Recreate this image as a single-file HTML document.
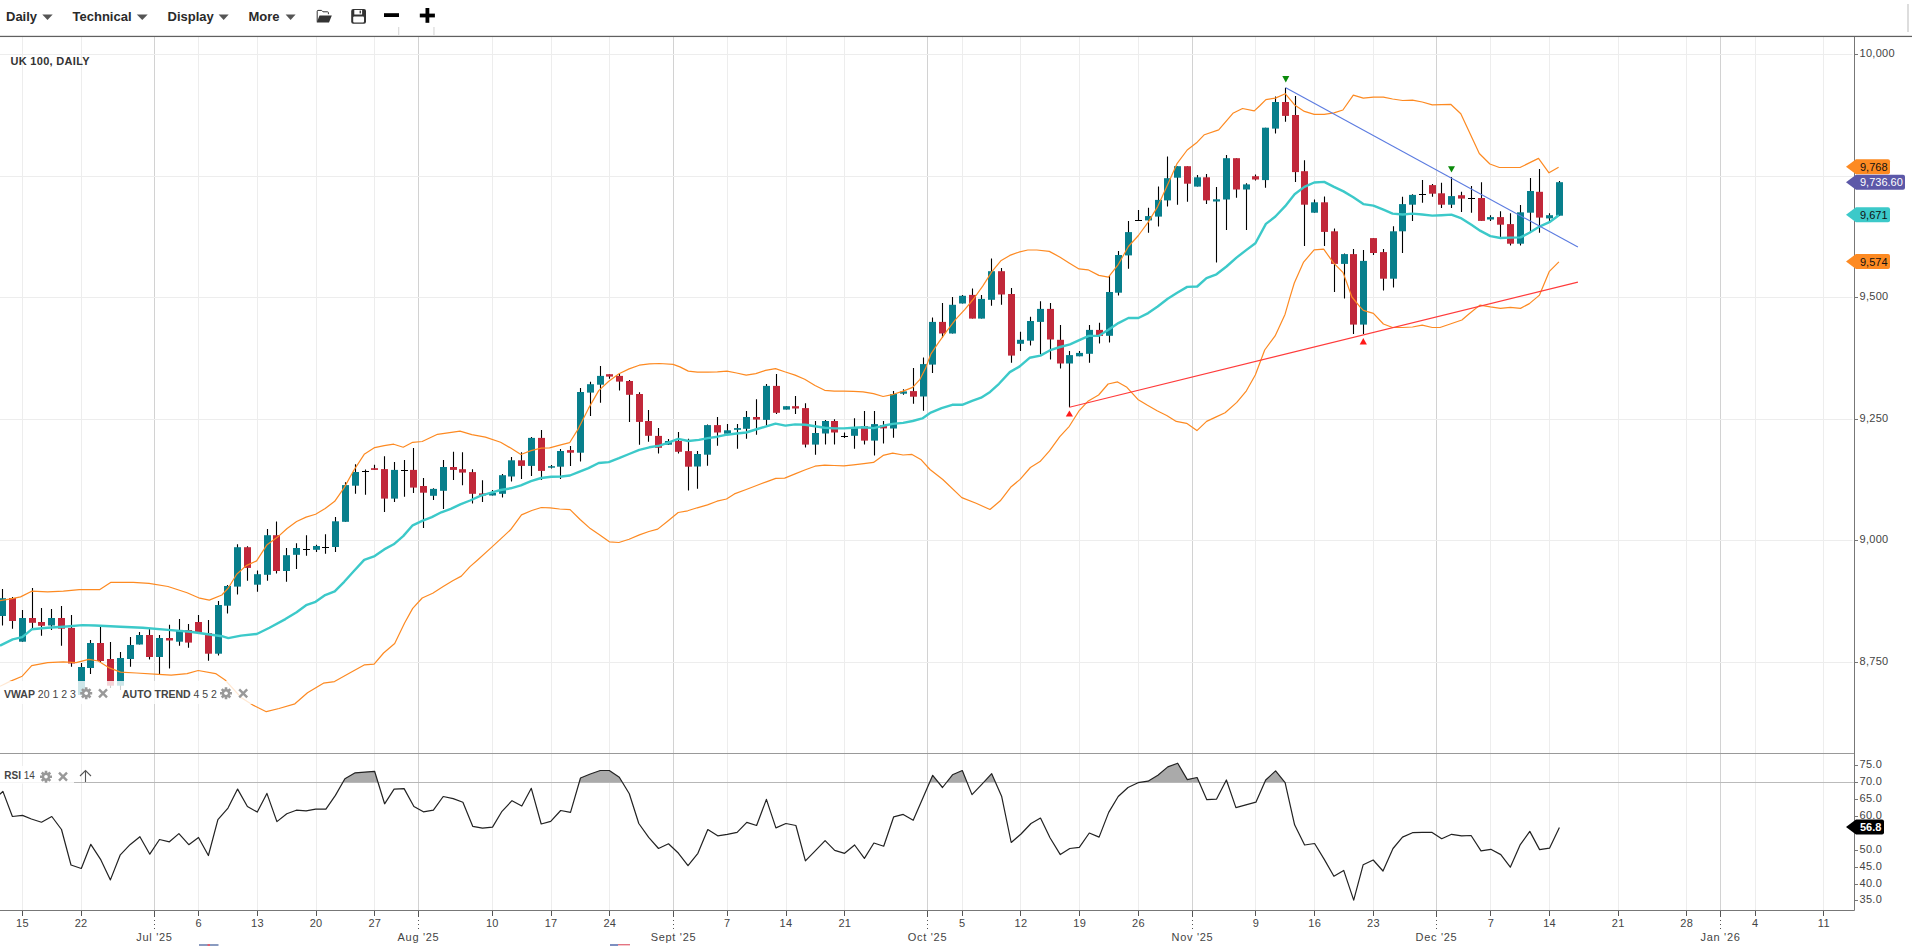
<!DOCTYPE html>
<html><head><meta charset="utf-8"><title>UK 100, Daily</title>
<style>
html,body{margin:0;padding:0;background:#fff;}
body{width:1912px;height:946px;overflow:hidden;position:relative;font-family:"Liberation Sans",sans-serif;}
svg{position:absolute;left:0;top:0;}
.ax{font-family:"Liberation Sans",sans-serif;font-size:11px;letter-spacing:0.3px;fill:#444;}
.mo{font-family:"Liberation Sans",sans-serif;font-size:11px;letter-spacing:0.7px;fill:#444;}
.tg{font-family:"Liberation Sans",sans-serif;font-size:11px;}
.lg{font-family:"Liberation Sans",sans-serif;font-size:10.5px;fill:#444;}
.tt{font-family:"Liberation Sans",sans-serif;font-size:11px;font-weight:bold;fill:#333;letter-spacing:0.3px;}
.tb{font-family:"Liberation Sans",sans-serif;font-size:13px;font-weight:bold;fill:#2a2a2a;}
</style></head>
<body>
<svg width="1912" height="946" viewBox="0 0 1912 946">
<path d="M22.5 37V910M81.5 37V910M198.5 37V910M257.5 37V910M316.5 37V910M374.5 37V910M492.5 37V910M551.5 37V910M609.5 37V910M727.5 37V910M786.5 37V910M844.5 37V910M962.5 37V910M1020.5 37V910M1079.5 37V910M1138.5 37V910M1255.5 37V910M1314.5 37V910M1373.5 37V910M1490.5 37V910M1549.5 37V910M1618.5 37V910M1686.5 37V910M1755.5 37V910M1823.5 37V910" stroke="#ededed" stroke-width="1" fill="none"/>
<path d="M154.5 37V910M418.5 37V910M673.5 37V910M927.5 37V910M1192.5 37V910M1436.5 37V910M1720.5 37V910" stroke="#d2d2d2" stroke-width="1" fill="none"/>
<path d="M0 54.5H1852.5M0 176.5H1852.5M0 297.5H1852.5M0 419.5H1852.5M0 540.5H1852.5M0 662.5H1852.5" stroke="#ededed" stroke-width="1" fill="none"/>
<path d="M0 753.5H1854.5" stroke="#999" stroke-width="1"/>
<path d="M0 782.5H1854.5" stroke="#bbb" stroke-width="1"/>
<clipPath id="c70"><rect x="0" y="740" width="1860" height="42.5"/></clipPath>
<polygon points="0,782.5 0,794.2 2.9,791.4 12.4,816.5 22.5,815.4 31.4,819 41.5,822.2 51.8,816.5 61.5,829.5 71,865 81.3,868.5 90.8,844.3 100.9,859.9 110.4,879.9 120.3,854.8 130,844.7 139.9,836.7 149.8,854.2 159.5,839.5 169.4,841.8 178.9,833.6 188.8,844.7 198.5,837.5 208.4,855.5 217.9,819.6 228,808.1 237.6,789.1 247.4,806.5 257.3,812.1 266.9,793.4 276.9,821.6 286.8,813.7 296.3,810.2 306.1,810.8 315.6,809.2 325.9,809.2 335.4,795.4 344.9,778.8 355.2,772.8 364.8,772.1 374.6,771.3 384.6,803.8 394.1,789.1 404.1,788.6 413.9,806.5 423.4,811.8 433.4,810.2 443.2,796.5 453.2,798.6 462.9,802.2 472.7,826.3 482.5,828.2 492.5,827.1 502,811.3 512,800.7 521.8,806 531.3,788.3 541.2,824 550.7,821.3 560.7,810.5 570.5,812.4 580.5,778 590.3,774 600.3,770.5 609.3,770.5 619.3,777.2 629.3,793.8 638.8,823.5 648.7,837.4 658.5,848.5 668.5,843.8 678.5,853.3 688,865.7 697.9,853.3 707.8,829.5 717.7,835.8 727.3,834.3 737.1,832.4 746.8,822.4 756.6,825.5 766.4,799.4 775.9,827.9 785.9,823.5 795.9,825.5 805.4,860.9 815.2,850.9 825.1,840.6 834.7,850.4 844.6,853.3 854.6,845 864.4,858.4 873.9,843 883.7,846.2 893.7,816.8 903.2,814.4 913.2,820.3 923.1,797.5 932.7,775.3 942.5,787.5 952.5,774.8 962.3,770.5 972,794.6 981.8,784.3 991.7,773.7 1001.6,796.2 1011.2,842.5 1021,834 1031,823.5 1040.5,818.1 1050,837.8 1060.3,854.6 1069.8,848.5 1079.3,847.3 1089.3,833 1099.1,837.1 1108.7,812.4 1118.2,796.5 1128,787.5 1138,782.7 1148,781.2 1157.9,775.3 1167.8,766.9 1177.7,763.2 1187.3,779.6 1197.1,777.5 1206.8,799.7 1216.6,799.1 1226.4,780 1235.9,807.6 1245.9,804.9 1255.9,802.2 1265.7,780 1275.6,770.9 1285.1,782.7 1294.6,824.8 1304.6,845 1314.6,843.5 1324.4,859.6 1333.9,876.3 1343.7,870.4 1353.7,900.1 1363.2,864.7 1373.2,860 1383,871 1393,848.5 1402.5,837.1 1412.5,832.7 1422.3,832.4 1432.1,832.4 1441.7,838.7 1451.6,834.3 1461.6,835.9 1471.1,835.5 1481,850.9 1490.8,849.3 1500.8,854.6 1510.3,867.2 1520.3,844.6 1529.8,831.4 1539.6,849.6 1549.5,848.2 1559.4,827.6 1559.4,782.5" fill="#aaaaaa" clip-path="url(#c70)"/>
<polyline points="0,794.2 2.9,791.4 12.4,816.5 22.5,815.4 31.4,819 41.5,822.2 51.8,816.5 61.5,829.5 71,865 81.3,868.5 90.8,844.3 100.9,859.9 110.4,879.9 120.3,854.8 130,844.7 139.9,836.7 149.8,854.2 159.5,839.5 169.4,841.8 178.9,833.6 188.8,844.7 198.5,837.5 208.4,855.5 217.9,819.6 228,808.1 237.6,789.1 247.4,806.5 257.3,812.1 266.9,793.4 276.9,821.6 286.8,813.7 296.3,810.2 306.1,810.8 315.6,809.2 325.9,809.2 335.4,795.4 344.9,778.8 355.2,772.8 364.8,772.1 374.6,771.3 384.6,803.8 394.1,789.1 404.1,788.6 413.9,806.5 423.4,811.8 433.4,810.2 443.2,796.5 453.2,798.6 462.9,802.2 472.7,826.3 482.5,828.2 492.5,827.1 502,811.3 512,800.7 521.8,806 531.3,788.3 541.2,824 550.7,821.3 560.7,810.5 570.5,812.4 580.5,778 590.3,774 600.3,770.5 609.3,770.5 619.3,777.2 629.3,793.8 638.8,823.5 648.7,837.4 658.5,848.5 668.5,843.8 678.5,853.3 688,865.7 697.9,853.3 707.8,829.5 717.7,835.8 727.3,834.3 737.1,832.4 746.8,822.4 756.6,825.5 766.4,799.4 775.9,827.9 785.9,823.5 795.9,825.5 805.4,860.9 815.2,850.9 825.1,840.6 834.7,850.4 844.6,853.3 854.6,845 864.4,858.4 873.9,843 883.7,846.2 893.7,816.8 903.2,814.4 913.2,820.3 923.1,797.5 932.7,775.3 942.5,787.5 952.5,774.8 962.3,770.5 972,794.6 981.8,784.3 991.7,773.7 1001.6,796.2 1011.2,842.5 1021,834 1031,823.5 1040.5,818.1 1050,837.8 1060.3,854.6 1069.8,848.5 1079.3,847.3 1089.3,833 1099.1,837.1 1108.7,812.4 1118.2,796.5 1128,787.5 1138,782.7 1148,781.2 1157.9,775.3 1167.8,766.9 1177.7,763.2 1187.3,779.6 1197.1,777.5 1206.8,799.7 1216.6,799.1 1226.4,780 1235.9,807.6 1245.9,804.9 1255.9,802.2 1265.7,780 1275.6,770.9 1285.1,782.7 1294.6,824.8 1304.6,845 1314.6,843.5 1324.4,859.6 1333.9,876.3 1343.7,870.4 1353.7,900.1 1363.2,864.7 1373.2,860 1383,871 1393,848.5 1402.5,837.1 1412.5,832.7 1422.3,832.4 1432.1,832.4 1441.7,838.7 1451.6,834.3 1461.6,835.9 1471.1,835.5 1481,850.9 1490.8,849.3 1500.8,854.6 1510.3,867.2 1520.3,844.6 1529.8,831.4 1539.6,849.6 1549.5,848.2 1559.4,827.6" fill="none" stroke="#222" stroke-width="1.2" stroke-linejoin="round"/>
<path d="M2.5 589V625.5M12.5 597V628.7M22.5 610V641.7M32.5 588V628M41.5 608V635.8M51.5 609V630M61.5 606V645.8M71.5 615V666.7M81.5 663V695M90.5 640V674M100.5 627V662M110.5 642V688M120.5 652V690M130.5 637V666.7M139.5 632V644.5M149.5 628.7V659.6M159.5 635V674M169.5 624.7V668.6M179.5 619V645.8M188.5 624V647.7M198.5 615V632.6M208.5 620V660.7M218.5 601V655.6M227.5 585V613.6M237.5 544.3V594.5M247.5 546.2V580.8M257.5 570.4V591.7M267.5 529V580.8M276.5 521.5V573.6M286.5 548V581.8M296.5 543.2V569M306.5 535.2V555.7M316.5 544.7V552M325.5 534.2V553.8M335.5 517V552M345.5 482.3V521.8M355.5 464.2V493.7M365.5 469.5V494.8M374.5 464.7V469.9M384.5 456.2V512M394.5 461.9V501.9M404.5 460V496.7M413.5 448V492.9M423.5 478V527.9M433.5 488.2V500M443.5 460V508.9M453.5 451.8V480M462.5 452.3V485.3M472.5 469.2V503.6M482.5 480.2V501.9M492.5 490V495.5M502.5 474V497.5M511.5 457V481.6M521.5 452.3V478.9M531.5 437.1V476M541.5 430V479.9M551.5 465V468.4M560.5 449V478.9M570.5 446.1V465.9M580.5 388V461.6M590.5 381.8V416M600.5 366V402.8M609.5 374.2V378.8M619.5 373.3V390.6M629.5 380.1V421.9M639.5 392.3V444.7M648.5 410V441.7M658.5 428.1V453.5M668.5 439.1V444.7M678.5 432V453.5M688.5 438.8V490.4M697.5 451V488.7M707.5 424.4V465.8M717.5 417V445.8M727.5 423.9V433.7M737.5 423.9V448.8M746.5 411V438.7M756.5 399.2V434.7M766.5 384V425.8M776.5 374.1V414M786.5 406.2V409.6M795.5 396V414M805.5 403.2V447.6M815.5 421V454.7M825.5 420V444.6M834.5 419.2V444.6M844.5 432.5V438M854.5 418.2V448.8M864.5 411V444.6M874.5 411V455.4M883.5 421V443.6M893.5 391.1V437.7M903.5 389.2V394.8M913.5 368.1V403.7M923.5 357.4V410.7M932.5 317.4V373M942.5 303V337.7M952.5 297V333.5M962.5 294.9V303.5M972.5 288.6V318.6M981.5 294.9V318.6M991.5 258.6V305.7M1001.5 268V304.8M1011.5 288.1V362.8M1020.5 331.7V351M1030.5 316.8V345.6M1040.5 301.2V354.5M1050.5 303V359.6M1060.5 325.1V368.6M1069.5 351V407.2M1079.5 351V356.3M1089.5 325.1V362.8M1099.5 322.7V343.4M1109.5 275.4V342.4M1118.5 251V295.4M1128.5 221V268.7M1138.5 210V220.4M1148.5 207.7V232.8M1158.5 186.6V226.6M1167.5 156.6V206.6M1177.5 166.2V204.8M1187.5 166.2V201.7M1197.5 174.9V186.6M1206.5 174V203.9M1216.5 187.1V262.5M1226.5 155.1V229.9M1236.5 158.2V197.7M1246.5 183.3V229.9M1255.5 174.4V180.6M1265.5 127.7V187.8M1275.5 96.6V133.6M1285.5 87.8V121.8M1295.5 96V181.9M1304.5 160.3V246.1M1314.5 199.4V212.7M1324.5 196.4V246.1M1334.5 228.4V292M1344.5 253.5V298.5M1353.5 249.1V334.1M1363.5 250V334.1M1373.5 238.1V255M1383.5 249.1V290.5M1393.5 226.3V287.6M1402.5 196.7V253M1412.5 194.3V221M1422.5 180V202.8M1432.5 184.1V196.7M1441.5 182.8V207.9M1451.5 177.1V207.9M1461.5 191.8V211.9M1471.5 186V212.7M1481.5 182.2V220.9M1490.5 215.2V220.9M1500.5 211.3V237M1510.5 213.2V245.6M1520.5 205.1V245.6M1530.5 178V232.3M1539.5 168.9V232.8M1549.5 213.2V220.9M1559.5 180.9V215.7" stroke="#000" stroke-width="1.1" fill="none"/>
<path d="M303 549.5H310M322 547.5H329M362 471.5H369M401 470.5H408M841 436.5H848M1135 220.5H1142M1419 194.5H1426M1468 198.5H1475" stroke="#000" stroke-width="1.2" fill="none"/>
<g fill="#087f8c"><rect x="-1" y="598.2" width="7" height="17.8"/><rect x="19" y="618" width="7" height="23.7"/><rect x="48" y="618" width="7" height="7.5"/><rect x="78" y="667" width="7" height="28"/><rect x="87" y="643" width="7" height="25"/><rect x="117" y="658" width="7" height="27.7"/><rect x="127" y="645" width="7" height="14"/><rect x="136" y="635" width="7" height="9.5"/><rect x="156" y="638" width="7" height="19"/><rect x="176" y="630" width="7" height="11.7"/><rect x="215" y="605" width="7" height="48.7"/><rect x="224" y="586" width="7" height="19.7"/><rect x="234" y="547.2" width="7" height="39.4"/><rect x="254" y="574.2" width="7" height="10.5"/><rect x="264" y="535.2" width="7" height="39.6"/><rect x="283" y="555.2" width="7" height="15.8"/><rect x="293" y="548" width="7" height="6.8"/><rect x="313" y="546" width="7" height="3.8"/><rect x="332" y="521.3" width="7" height="25.7"/><rect x="342" y="485.1" width="7" height="36.7"/><rect x="352" y="472" width="7" height="13.7"/><rect x="391" y="469.9" width="7" height="28.7"/><rect x="430" y="488.9" width="7" height="6.9"/><rect x="440" y="467" width="7" height="23.8"/><rect x="489" y="492.9" width="7" height="2.6"/><rect x="499" y="475.2" width="7" height="18.6"/><rect x="508" y="460.3" width="7" height="16.2"/><rect x="528" y="437.9" width="7" height="28"/><rect x="548" y="466.2" width="7" height="1.5"/><rect x="557" y="451" width="7" height="15.7"/><rect x="577" y="392" width="7" height="60.7"/><rect x="587" y="384.2" width="7" height="8.4"/><rect x="597" y="375.9" width="7" height="8.8"/><rect x="665" y="441" width="7" height="3.7"/><rect x="694" y="454" width="7" height="12.5"/><rect x="704" y="425.1" width="7" height="29.6"/><rect x="724" y="430.3" width="7" height="3.4"/><rect x="734" y="428.1" width="7" height="1.7"/><rect x="743" y="417" width="7" height="11.8"/><rect x="763" y="385.9" width="7" height="34"/><rect x="783" y="406.2" width="7" height="3.4"/><rect x="812" y="433" width="7" height="11.6"/><rect x="822" y="421" width="7" height="12.5"/><rect x="851" y="427.3" width="7" height="8.5"/><rect x="871" y="424.1" width="7" height="16.5"/><rect x="890" y="394" width="7" height="34.5"/><rect x="900" y="391.4" width="7" height="2.3"/><rect x="920" y="364.1" width="7" height="32.4"/><rect x="929" y="321.9" width="7" height="42.7"/><rect x="949" y="304.8" width="7" height="28.7"/><rect x="959" y="295.8" width="7" height="7.7"/><rect x="978" y="298.9" width="7" height="19.7"/><rect x="988" y="271.2" width="7" height="28.6"/><rect x="1017" y="339.8" width="7" height="4"/><rect x="1027" y="321" width="7" height="19.7"/><rect x="1037" y="308.9" width="7" height="13"/><rect x="1066" y="355.1" width="7" height="8.4"/><rect x="1076" y="352.9" width="7" height="3.4"/><rect x="1086" y="329.9" width="7" height="23.9"/><rect x="1106" y="292" width="7" height="43.8"/><rect x="1115" y="255" width="7" height="37.7"/><rect x="1125" y="232.1" width="7" height="23.3"/><rect x="1145" y="216.1" width="7" height="4.3"/><rect x="1155" y="199.9" width="7" height="16.7"/><rect x="1164" y="178.2" width="7" height="22.2"/><rect x="1174" y="166.2" width="7" height="11.5"/><rect x="1194" y="177.3" width="7" height="9.3"/><rect x="1213" y="199.3" width="7" height="2.2"/><rect x="1223" y="158.2" width="7" height="41.3"/><rect x="1243" y="184.4" width="7" height="5.1"/><rect x="1262" y="127.7" width="7" height="52.4"/><rect x="1272" y="102" width="7" height="26.6"/><rect x="1311" y="202.3" width="7" height="10.4"/><rect x="1341" y="254.1" width="7" height="9.8"/><rect x="1360" y="260.9" width="7" height="63.7"/><rect x="1390" y="231.3" width="7" height="47.4"/><rect x="1399" y="204.1" width="7" height="27.2"/><rect x="1409" y="194.9" width="7" height="9.8"/><rect x="1448" y="196.1" width="7" height="8.6"/><rect x="1487" y="217.1" width="7" height="2.4"/><rect x="1517" y="212.3" width="7" height="31.4"/><rect x="1527" y="191" width="7" height="21.7"/><rect x="1546" y="215.2" width="7" height="3.2"/><rect x="1556" y="182.2" width="7" height="33.5"/></g>
<g fill="#c1283a"><rect x="9" y="598" width="7" height="23"/><rect x="29" y="618" width="7" height="4.8"/><rect x="38" y="622" width="7" height="3.8"/><rect x="58" y="618" width="7" height="10.7"/><rect x="68" y="627.9" width="7" height="35.6"/><rect x="97" y="643" width="7" height="18"/><rect x="107" y="659" width="7" height="26.7"/><rect x="146" y="635" width="7" height="22"/><rect x="166" y="638" width="7" height="2.5"/><rect x="185" y="630" width="7" height="12.6"/><rect x="195" y="622" width="7" height="10.6"/><rect x="205" y="633" width="7" height="20.7"/><rect x="244" y="547.2" width="7" height="20.7"/><rect x="273" y="535.2" width="7" height="35.8"/><rect x="371" y="468.2" width="7" height="1.7"/><rect x="381" y="469.1" width="7" height="29.5"/><rect x="410" y="469.9" width="7" height="17.7"/><rect x="420" y="486" width="7" height="6.7"/><rect x="450" y="467" width="7" height="2.9"/><rect x="459" y="469.2" width="7" height="3.4"/><rect x="469" y="472.1" width="7" height="21.7"/><rect x="479" y="493.4" width="7" height="2.1"/><rect x="518" y="460.3" width="7" height="5.6"/><rect x="538" y="437.9" width="7" height="33"/><rect x="567" y="450.1" width="7" height="2.6"/><rect x="606" y="374.2" width="7" height="2.4"/><rect x="616" y="375.9" width="7" height="5.7"/><rect x="626" y="381" width="7" height="13.8"/><rect x="636" y="394" width="7" height="27.9"/><rect x="645" y="421" width="7" height="14.8"/><rect x="655" y="435.9" width="7" height="11.9"/><rect x="675" y="441" width="7" height="10.8"/><rect x="685" y="451.1" width="7" height="15.6"/><rect x="714" y="425.1" width="7" height="7.4"/><rect x="753" y="417" width="7" height="2.6"/><rect x="773" y="385.9" width="7" height="26.9"/><rect x="792" y="406.2" width="7" height="2.3"/><rect x="802" y="408.1" width="7" height="36.5"/><rect x="831" y="421" width="7" height="11.5"/><rect x="861" y="426.1" width="7" height="14.5"/><rect x="880" y="425.1" width="7" height="3.3"/><rect x="910" y="391.1" width="7" height="5.6"/><rect x="939" y="321.9" width="7" height="11.6"/><rect x="969" y="294.9" width="7" height="23.7"/><rect x="998" y="271.2" width="7" height="23.3"/><rect x="1008" y="294" width="7" height="61.6"/><rect x="1047" y="308.9" width="7" height="30.6"/><rect x="1057" y="339.8" width="7" height="23.7"/><rect x="1096" y="329.9" width="7" height="6"/><rect x="1184" y="166.2" width="7" height="17.5"/><rect x="1203" y="177.3" width="7" height="23.1"/><rect x="1233" y="158.2" width="7" height="31.3"/><rect x="1252" y="176.2" width="7" height="3.3"/><rect x="1282" y="102" width="7" height="13.9"/><rect x="1292" y="115" width="7" height="57.1"/><rect x="1301" y="171.2" width="7" height="33.5"/><rect x="1321" y="202.3" width="7" height="29.6"/><rect x="1331" y="231.3" width="7" height="32.6"/><rect x="1350" y="254.1" width="7" height="70.5"/><rect x="1370" y="238.1" width="7" height="14.9"/><rect x="1380" y="252.1" width="7" height="26.6"/><rect x="1429" y="185.1" width="7" height="8.6"/><rect x="1438" y="193.3" width="7" height="11.4"/><rect x="1458" y="195.2" width="7" height="3.4"/><rect x="1478" y="198" width="7" height="22.9"/><rect x="1497" y="217.1" width="7" height="7.6"/><rect x="1507" y="224.1" width="7" height="19.6"/><rect x="1536" y="191.8" width="7" height="25.8"/></g>
<polyline points="0,600.7 9.5,599.1 20.6,596.9 31.7,591.2 47.6,591.8 63.4,591.2 79.3,589.6 99.9,589.6 111,582.3 133.2,582.3 149,583.3 168,586.5 187.1,592.8 199.7,598.2 209.3,600.1 221.9,595 228.3,588 236.7,574.2 246.2,565.6 256.6,560.9 267.1,544.7 277.6,537.1 287.1,528.5 296.6,521.5 306.1,517.1 315.6,514.2 325.2,508.5 334.7,501.3 344.2,487.6 353.7,470.5 364.2,454.3 374.7,447.6 384.2,445.7 393.7,444.2 403.2,447.2 412.7,442.3 422.2,441.5 437.5,434.3 460,431.2 471.8,434.6 485.4,437.1 500.6,442.2 510.7,448.1 520.9,454.5 531,450.6 541.2,448.1 549.6,447.8 559.8,445.1 569.6,442.7 578.4,428.6 588.5,408.4 598.7,390.6 608.8,381.3 619,373.7 629.1,368.9 639.3,365.2 649.4,363.9 659.6,363.5 673.1,364.4 679.9,366.9 688.3,371.1 697.4,372.1 707.8,372.1 717.4,371.8 727,371.1 736.6,373 746.2,375.1 755.8,373.6 765.5,370.4 775.5,368.6 784.7,371.8 795.1,375.1 804.7,379.2 815,385.5 824.7,390.3 834.3,391.1 843.9,391.1 853.5,391.4 863.1,391.8 873.5,393.7 883.1,396.5 893.5,394.3 903.1,391.1 912.7,387.4 920,379.3 925.4,368.6 930.8,354.2 938,343.4 946.9,330.8 955.9,319.2 964.9,309.3 973.9,298.5 982.9,285.9 991.9,271.6 1000.8,260.8 1009.8,255.4 1018.8,252.2 1027.8,250 1036.8,250 1049.3,251.4 1060.1,257.2 1069.1,262.9 1079,268.9 1088,269.8 1098.9,275.4 1108.4,277.2 1118.4,264.3 1128.4,246.5 1138.4,235.5 1148.2,222.1 1157.7,206.6 1167.7,184.4 1177.2,163.3 1187.2,150 1197.2,142.2 1204.4,134.7 1218.7,129.9 1232.9,113.3 1242.5,108.5 1254.3,110.9 1260,105.5 1265.9,99.6 1275.4,98.1 1285.2,93.7 1294.6,104.9 1304.4,111.4 1314.2,114.4 1324.2,114.4 1334,112.9 1342.9,110 1353.3,95.2 1363.3,98.1 1373.4,97.2 1383.4,97.2 1392.6,99 1402.7,100.5 1412.5,100.2 1422.2,102 1432.3,104.9 1450.7,104.3 1460.8,113.8 1479.3,153.5 1489.9,164 1499.4,167.5 1520,167.5 1538.5,158.4 1549,172.8 1558.6,167.2" fill="none" stroke="#fd8a22" stroke-width="1.2" stroke-linejoin="round"/>
<polyline points="0,686.3 9.5,681.6 22.2,676.2 31.7,665.7 47.6,662.6 63.4,661.9 76.1,662.6 88.8,659.4 98.3,661 109.4,667.9 120.5,672.1 136.3,673 158.5,674.3 171.2,675.2 187.1,673.6 198.2,670.5 215.6,673.6 225.1,680 241,697.4 253.6,705.4 266.3,711.7 279,708.5 294.9,703.8 307.5,692.7 323.4,683.2 334.5,681.6 348.8,673.6 364.6,664.8 374.1,664.1 383.6,653 394.7,643.5 404.6,623 412.7,608.4 422.2,598 432.7,593.2 443.2,586.6 452.7,580.8 461.3,576.1 470,566.6 477.6,560 491.5,547.4 501,538.6 510.5,529.8 521.5,514.9 531.8,510.5 541.3,507.5 550.1,507.8 559.6,509 570.1,509.6 580.1,519.5 590.3,528.6 599.1,534.5 609.4,541.8 618.9,542.5 629.1,539.3 639.4,534.9 648.9,531.5 657.7,529.1 667.9,521 678.2,512.5 687.7,510.8 697.2,507.8 707.5,504.9 717,501.2 726.5,499 734.4,493.9 746.2,489.5 756.6,485.5 767,481.6 775.8,478.4 784.7,478.1 795.1,473.9 805.4,469.8 815,466.2 824.7,465.1 834.3,465.5 843.9,465.8 853.5,464.8 863.9,463.6 873.5,462.4 883.1,455.4 892.7,453.2 903.1,455 912,454.4 920.8,459.4 930,469.5 942.8,479.5 961.8,497.6 976.1,503.3 990,509.5 1000.3,500.8 1010.6,487.3 1020.1,479.4 1030.4,467.5 1040,461.6 1049.5,450.9 1059.8,436.6 1069.3,426.3 1078.8,411.2 1088.3,400.9 1098.6,395 1108.1,384 1117.6,381.9 1126.9,387.3 1137.9,399.4 1147.5,405.2 1157.1,410.7 1166.7,415.5 1176.3,421.4 1186.6,423.3 1196.9,430.6 1206.6,421.4 1216.2,416.9 1225.1,412.7 1236.8,402.4 1246.4,390.8 1255.3,375 1264.7,350 1275.1,335.9 1285,314.4 1289.7,298.1 1294.3,283 1303.6,262.1 1314.1,249.9 1323.7,249.1 1333.3,262.7 1343.1,272.6 1351.9,297 1360,306.9 1363.3,310.4 1373.4,313.3 1383.4,324 1392.6,327.5 1402.7,327.5 1412.5,327 1422.2,325.2 1432.3,327.5 1440,327.5 1461.9,320 1469.5,313.5 1479.9,305.1 1490.4,306.9 1500.5,308.4 1510.4,307.4 1520.5,308.4 1529.4,303.6 1539.5,295.1 1549.4,271.3 1558.9,261.8" fill="none" stroke="#fd8a22" stroke-width="1.2" stroke-linejoin="round"/>
<polyline points="0,645.7 12.7,639.4 22.2,637.2 31.7,629.3 47.6,627.7 63.4,626.7 82.4,625.1 95.1,625.5 120.5,626.7 142.7,627.7 168,629.9 190.2,631.8 206.1,634 221.9,636.2 228.3,638.1 241,635.6 256.8,634 269.5,627.7 285.4,619.1 296.6,612.2 306.1,605.2 315.6,601.8 325.2,595.1 334.7,591.3 344.2,581.8 353.7,571.3 364.2,559.9 374.7,556.1 384.2,549.4 393.7,544.3 403.2,536.1 412.7,525.3 422.2,520.9 431.8,517.1 441.3,512.3 450.8,508.9 460.3,504.3 470.1,500.5 480.3,495.8 490.4,492.9 500.6,490 510.7,488.3 520.9,485.3 531,481.1 541.2,478 551.3,476.8 561.5,476.5 569.9,475.5 578.4,472.1 588.5,468.1 598.7,463 608.8,462.1 619,458.2 629.1,454 639.3,449.8 649.4,447.3 659.6,445.6 669.7,442.2 678.2,438.8 688.3,441 698.9,439.9 707.8,438.1 717.4,436.7 727,434.7 736.6,433.5 746.2,432.5 755.8,429.5 765.5,426.6 775.5,423.6 785.4,425.6 795.1,424.4 805.4,424.7 815,426.3 824.7,427.8 834.3,428.4 843.9,428.4 853.5,427.8 863.9,427.3 873.5,428.1 883.1,425.8 892.7,423.9 903.1,422.9 912.7,421 922.3,418.4 930.8,412.6 941.6,408.1 952.3,404.8 962.2,404.8 972.1,400.9 981.1,397.7 990.1,391.9 999,383.8 1009.8,372.1 1019.7,366.4 1029.6,357.8 1040.4,355.6 1050.2,350.2 1060.1,347 1070,344.3 1079.9,339.8 1088.9,335.9 1098.9,335.8 1108.4,329.8 1118.4,323.1 1128.4,318 1138.4,318 1148.2,313.1 1157.7,306.5 1167.7,298.7 1177.2,292.7 1187.2,286.9 1197.2,286.5 1206.5,278.1 1216.5,274.3 1226.5,266.5 1236.5,257.6 1246.5,249.9 1255.4,243.2 1265.9,223.9 1275.4,216.5 1285.2,206.2 1294.6,194.3 1304.4,186.9 1314.2,182.5 1324.2,181.9 1334,186.9 1343.5,191.4 1353.3,197.3 1363.3,204.1 1373.4,205.6 1383.4,209.7 1392.6,213.6 1402.7,214.5 1412.5,213.6 1422.2,214.5 1432.3,215.6 1441.5,215.2 1451.4,214.6 1461.5,218.4 1471.4,224.7 1480.5,230.9 1490.4,236.1 1500.5,238 1510.4,237.6 1520.5,237.4 1529.4,232.8 1539.5,226.6 1549.4,222.2 1558.9,215.2" fill="none" stroke="#3cc9c9" stroke-width="2.4" stroke-linejoin="round"/>
<line x1="1285.8" y1="87.8" x2="1577.9" y2="247.1" stroke="#5b7be0" stroke-width="1.1"/>
<line x1="1069.4" y1="407.2" x2="1577.9" y2="282.1" stroke="#ff3b3b" stroke-width="1.1"/>
<polygon points="1282.3,75.9 1289.3,75.9 1285.8,82.4" fill="#0a8a0a"/>
<polygon points="1448,166.2 1455,166.2 1451.5,172.5" fill="#0a8a0a"/>
<polygon points="1069.4,410.4 1073,416.4 1065.8,416.4" fill="#ff1a1a"/>
<polygon points="1363.3,338 1366.9,344.4 1359.7,344.4" fill="#ff1a1a"/>
<path d="M1854.5 37V910.5" stroke="#777" stroke-width="1"/>
<path d="M0 910.5H1854.5" stroke="#777" stroke-width="1"/>
<path d="M1854.5 54.5h3.5" stroke="#777"/>
<text x="1859.5" y="57.1" class="ax">10,000</text>
<path d="M1854.5 297.5h3.5" stroke="#777"/>
<text x="1859.5" y="300.1" class="ax">9,500</text>
<path d="M1854.5 419.5h3.5" stroke="#777"/>
<text x="1859.5" y="422.1" class="ax">9,250</text>
<path d="M1854.5 540.5h3.5" stroke="#777"/>
<text x="1859.5" y="543.1" class="ax">9,000</text>
<path d="M1854.5 662.5h3.5" stroke="#777"/>
<text x="1859.5" y="665.1" class="ax">8,750</text>
<path d="M1854.5 765.5h3.5" stroke="#777"/>
<text x="1859.5" y="768.1" class="ax">75.0</text>
<path d="M1854.5 782.5h3.5" stroke="#777"/>
<text x="1859.5" y="785.1" class="ax">70.0</text>
<path d="M1854.5 799.5h3.5" stroke="#777"/>
<text x="1859.5" y="802.1" class="ax">65.0</text>
<path d="M1854.5 816.5h3.5" stroke="#777"/>
<text x="1859.5" y="819.1" class="ax">60.0</text>
<path d="M1854.5 850.5h3.5" stroke="#777"/>
<text x="1859.5" y="853.1" class="ax">50.0</text>
<path d="M1854.5 867.5h3.5" stroke="#777"/>
<text x="1859.5" y="870.1" class="ax">45.0</text>
<path d="M1854.5 884.5h3.5" stroke="#777"/>
<text x="1859.5" y="887.1" class="ax">40.0</text>
<path d="M1854.5 900.5h3.5" stroke="#777"/>
<text x="1859.5" y="903.1" class="ax">35.0</text>
<text x="22.4" y="927" class="ax" text-anchor="middle">15</text>
<text x="81.1" y="927" class="ax" text-anchor="middle">22</text>
<text x="198.6" y="927" class="ax" text-anchor="middle">6</text>
<text x="257.4" y="927" class="ax" text-anchor="middle">13</text>
<text x="316.1" y="927" class="ax" text-anchor="middle">20</text>
<text x="374.8" y="927" class="ax" text-anchor="middle">27</text>
<text x="492.3" y="927" class="ax" text-anchor="middle">10</text>
<text x="551.1" y="927" class="ax" text-anchor="middle">17</text>
<text x="609.8" y="927" class="ax" text-anchor="middle">24</text>
<text x="727.3" y="927" class="ax" text-anchor="middle">7</text>
<text x="786" y="927" class="ax" text-anchor="middle">14</text>
<text x="844.8" y="927" class="ax" text-anchor="middle">21</text>
<text x="962.2" y="927" class="ax" text-anchor="middle">5</text>
<text x="1021" y="927" class="ax" text-anchor="middle">12</text>
<text x="1079.7" y="927" class="ax" text-anchor="middle">19</text>
<text x="1138.5" y="927" class="ax" text-anchor="middle">26</text>
<text x="1255.9" y="927" class="ax" text-anchor="middle">9</text>
<text x="1314.7" y="927" class="ax" text-anchor="middle">16</text>
<text x="1373.4" y="927" class="ax" text-anchor="middle">23</text>
<text x="1490.9" y="927" class="ax" text-anchor="middle">7</text>
<text x="1549.6" y="927" class="ax" text-anchor="middle">14</text>
<text x="1618.2" y="927" class="ax" text-anchor="middle">21</text>
<text x="1686.7" y="927" class="ax" text-anchor="middle">28</text>
<text x="1755.2" y="927" class="ax" text-anchor="middle">4</text>
<text x="1823.8" y="927" class="ax" text-anchor="middle">11</text>
<path d="M154.5 920V930" stroke="#555" stroke-width="1" stroke-dasharray="1,3"/>
<text x="154.5" y="941" class="mo" text-anchor="middle">Jul '25</text>
<path d="M418.5 920V930" stroke="#555" stroke-width="1" stroke-dasharray="1,3"/>
<text x="418.5" y="941" class="mo" text-anchor="middle">Aug '25</text>
<path d="M673.5 920V930" stroke="#555" stroke-width="1" stroke-dasharray="1,3"/>
<text x="673.5" y="941" class="mo" text-anchor="middle">Sept '25</text>
<path d="M927.5 920V930" stroke="#555" stroke-width="1" stroke-dasharray="1,3"/>
<text x="927.5" y="941" class="mo" text-anchor="middle">Oct '25</text>
<path d="M1192.5 920V930" stroke="#555" stroke-width="1" stroke-dasharray="1,3"/>
<text x="1192.5" y="941" class="mo" text-anchor="middle">Nov '25</text>
<path d="M1436.5 920V930" stroke="#555" stroke-width="1" stroke-dasharray="1,3"/>
<text x="1436.5" y="941" class="mo" text-anchor="middle">Dec '25</text>
<path d="M1720.5 920V930" stroke="#555" stroke-width="1" stroke-dasharray="1,3"/>
<text x="1720.5" y="941" class="mo" text-anchor="middle">Jan '26</text>
<path d="M22.5 911V916M81.5 911V916M198.5 911V916M257.5 911V916M316.5 911V916M374.5 911V916M492.5 911V916M551.5 911V916M609.5 911V916M727.5 911V916M786.5 911V916M844.5 911V916M962.5 911V916M1020.5 911V916M1079.5 911V916M1138.5 911V916M1255.5 911V916M1314.5 911V916M1373.5 911V916M1490.5 911V916M1549.5 911V916M1618.5 911V916M1686.5 911V916M1755.5 911V916M1823.5 911V916M154.5 911V917M418.5 911V917M673.5 911V917M927.5 911V917M1192.5 911V917M1436.5 911V917M1720.5 911V917" stroke="#555" stroke-width="1"/>
<path d="M1846 166.7 L1856 159.2 H1888 Q1890 159.2 1890 161.2 V172.2 Q1890 174.2 1888 174.2 H1856 Z" fill="#fd8a22"/>
<text x="1860" y="170.7" class="tg" fill="#111">9,768</text>
<path d="M1846 182.3 L1856 174.8 H1903 Q1905 174.8 1905 176.8 V187.8 Q1905 189.8 1903 189.8 H1856 Z" fill="#5c58a8"/>
<text x="1860" y="186.3" class="tg" fill="#fff">9,736.60</text>
<path d="M1846 214.7 L1856 207.2 H1888 Q1890 207.2 1890 209.2 V220.2 Q1890 222.2 1888 222.2 H1856 Z" fill="#3cc9c9"/>
<text x="1860" y="218.7" class="tg" fill="#111">9,671</text>
<path d="M1846 261.5 L1856 254 H1888 Q1890 254 1890 256 V267 Q1890 269 1888 269 H1856 Z" fill="#fd8a22"/>
<text x="1860" y="265.5" class="tg" fill="#111">9,574</text>
<path d="M1846 827 L1856 819.5 H1882 Q1884 819.5 1884 821.5 V832.5 Q1884 834.5 1882 834.5 H1856 Z" fill="#000"/>
<text x="1860" y="831" class="tg" fill="#fff" font-weight="bold">56.8</text>
<rect x="0" y="681" width="253" height="23" fill="#fff" fill-opacity="0.8"/>
<text x="4" y="697.5" class="lg"><tspan font-weight="bold">VWAP</tspan> 20 1 2 3</text>
<g transform="translate(86.2 693.3)" fill="#999"><circle r="4.2"/><path d="M-1.3 -6h2.6v12h-2.6zM-6 -1.3v2.6h12v-2.6z"/><path d="M-1.3 -6h2.6v12h-2.6z" transform="rotate(45)"/><path d="M-1.3 -6h2.6v12h-2.6z" transform="rotate(-45)"/><circle r="1.8" fill="#fff"/></g>
<path d="M99 689.3l8 8M107 689.3l-8 8" stroke="#999" stroke-width="2.4"/>
<text x="122" y="697.5" class="lg"><tspan font-weight="bold">AUTO TREND</tspan> 4 5 2</text>
<g transform="translate(226 693.3)" fill="#999"><circle r="4.2"/><path d="M-1.3 -6h2.6v12h-2.6zM-6 -1.3v2.6h12v-2.6z"/><path d="M-1.3 -6h2.6v12h-2.6z" transform="rotate(45)"/><path d="M-1.3 -6h2.6v12h-2.6z" transform="rotate(-45)"/><circle r="1.8" fill="#fff"/></g>
<path d="M239.2 689.3l8 8M247.2 689.3l-8 8" stroke="#999" stroke-width="2.4"/>
<rect x="0" y="766" width="74" height="17.5" fill="#fff" fill-opacity="0.85"/>
<text x="4.3" y="779" class="lg" style="font-size:10px"><tspan font-weight="bold">RSI</tspan> 14</text>
<g transform="translate(46 776.7)" fill="#999"><circle r="4.2"/><path d="M-1.3 -6h2.6v12h-2.6zM-6 -1.3v2.6h12v-2.6z"/><path d="M-1.3 -6h2.6v12h-2.6z" transform="rotate(45)"/><path d="M-1.3 -6h2.6v12h-2.6z" transform="rotate(-45)"/><circle r="1.8" fill="#fff"/></g>
<path d="M59 772.7l8 8M67 772.7l-8 8" stroke="#999" stroke-width="2.4"/>
<path d="M85.5 782V770.5M80 776l5.5-5.5 5.5 5.5" stroke="#555" stroke-width="1.1" fill="none"/>
<text x="10.5" y="65.2" class="tt">UK 100, DAILY</text>
<rect x="0" y="35.8" width="1912" height="1.25" fill="#606060"/>
<text x="6" y="21" class="tb">Daily</text>
<polygon points="42.3,14.4 52.7,14.4 47.5,19.9" fill="#555"/>
<text x="72.5" y="21" class="tb">Technical</text>
<polygon points="136.8,14.4 147.7,14.4 142.25,19.9" fill="#555"/>
<text x="167.5" y="21" class="tb">Display</text>
<polygon points="218.6,14.4 228.7,14.4 223.65,19.9" fill="#555"/>
<text x="248.5" y="21" class="tb">More</text>
<polygon points="285.6,14.4 295.6,14.4 290.6,19.9" fill="#555"/>
<path d="M317.2 21.8V11.2q0-0.8 0.8-0.8h3.6l1.4 1.4h4.6q0.8 0 0.8 0.8v1.6" fill="none" stroke="#333" stroke-width="1"/><path d="M319.5 15.6h12.3l-2.8 6.8h-12.3z" fill="#333"/>
<rect x="351.2" y="9" width="14.8" height="14.8" rx="2" fill="#333"/><rect x="354.3" y="10" width="7.8" height="4.5" fill="#fff"/><rect x="359.6" y="10.6" width="1.3" height="2.8" fill="#333"/><rect x="353.2" y="16.4" width="10.8" height="6" rx="1" fill="#fff"/>
<rect x="384" y="13.2" width="15" height="3.8" fill="#000"/>
<rect x="419.8" y="13.6" width="15.1" height="3.8" fill="#000"/><rect x="425.5" y="8" width="3.8" height="14.8" fill="#000"/>
<rect x="398" y="27" width="1.3" height="8.5" fill="#ddd"/>
<rect x="433.3" y="27" width="1.3" height="8.5" fill="#ddd"/>
<rect x="1907" y="4" width="2" height="28" fill="#ddd"/>
<rect x="199" y="944" width="19.5" height="2" fill="#8a9bc0"/>
<rect x="207.5" y="944" width="2.5" height="2" fill="#e06070"/>
<rect x="610" y="944" width="20" height="2" fill="#f4c8cc"/>
<rect x="610" y="944" width="8" height="2" fill="#7d8fc0"/>
<rect x="618" y="944" width="12" height="0.8" fill="#e06070"/>
</svg>
</body></html>
